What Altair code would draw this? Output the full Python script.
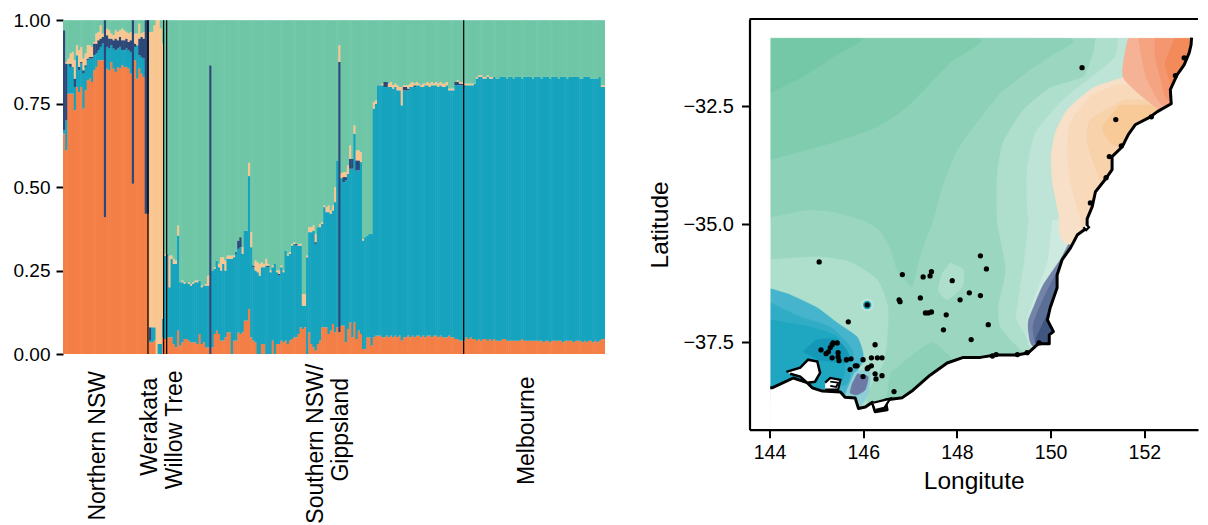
import altair as alt
import pandas as pd

# ---------- left panel: cumulative tops of each ancestry cluster per individual ----------
orange = [.66,.61,.78,.78,.78,.73,.80,.785,.80,.735,
 .79,.82,.825,.815,.85,.86,.88,.88,.88,.41,
 .855,.85,.875,.855,.845,.86,.855,.865,.86,.86,
 .855,.84,.51,.88,.825,.855,.84,.83,.42,.42,
 .035,.035,.04,0,0,0,.05,.045,.05,.05,
 .05,.03,.02,.07,.025,.035,.045,.045,.04,.035,
 .035,.035,.03,.06,.03,.035,.02,.02,0,.02,
 .06,.07,.06,.04,.04,.05,.065,.065,0,.04,
 .04,.065,.06,.065,.10,.10,.135,.05,.04,.035,
 0,0,.03,.03,0,0,0,.04,0,.03,
 .03,.04,.035,.04,.03,.04,.045,.05,.05,.06,
 .08,.075,.08,0,.065,.03,.02,.01,.03,.04,
 .08,.08,.08,.06,.07,.09,.065,.08,.065,.085,
 .085,.035,.075,.095,.05,.095,.045,.07,.06,.015,
 .015,.05,.05,.025,.05,.055,.055,.055,.05,.05,
 .055,.05,.055,.05,.055,.05,.055,.04,.05,.05,
 .055,.05,.055,.05,.055,.055,.05,.055,.05,.055,
 .055,.05,.055,.055,.05,.055,.05,.05,.05,.055,
 .05,.05,.045,.045,.04,.04,.04,.05,.045,.05,
 .045,.045,.04,.045,.04,.045,.045,.04,.045,.04,
 .045,.04,.04,.04,.045,.045,.04,.04,.04,.04,
 .04,.04,.04,.045,.04,.04,.04,.04,.04,.04,
 .04,.04,.04,.035,.04,.04,.035,.04,.04,.04,
 .04,.04,.035,.04,.04,.04,.04,.035,.04,.04,
 .04,.035,.04,.035,.04,.04,.035,.04,.035,.04,.045,.045]

blue_top = [.67,.70,.87,.86,.86,.80,.895,.85,.87,.84,
 .86,.88,.885,.885,.895,.90,.91,.92,.93,.41,
 .92,.915,.925,.915,.91,.915,.92,.91,.91,.915,
 .91,.905,.51,.92,.925,.895,.89,.885,.42,.42,
 .04,.08,.08,0,.03,.03,.105,.295,.30,.20,
 .285,.27,.27,.355,.215,.215,.21,.215,.21,.205,
 .21,.215,.215,.22,.20,.205,.205,.205,0,.25,
 .255,.28,.26,.25,.27,.25,.285,.285,.285,.29,
 .30,.315,.32,.30,.37,.37,.533,.32,.26,.25,
 .245,.235,.26,.26,.265,.26,.245,.26,.27,.245,
 .235,.26,.245,.31,.295,.30,.325,.33,.325,.325,
 .325,.145,.145,.29,.365,.365,.37,.33,.38,.38,
 .39,.44,.425,.425,.42,.43,.455,.58,.065,.527,
 .515,.52,.54,.555,.555,.66,.55,.55,.575,.34,
 .35,.355,.36,.36,.735,.75,.805,.805,.805,.80,
 .80,.80,.80,.795,.80,.79,.79,.745,.79,.79,
 .79,.80,.80,.80,.805,.805,.80,.80,.805,.805,
 .80,.805,.805,.805,.80,.805,.80,.80,.805,.79,
 .79,.79,.805,.805,.805,.805,.80,.805,.805,.805,
 .805,.81,.825,.83,.83,.825,.825,.83,.825,.825,
 .83,.825,.825,.83,.83,.83,.825,.83,.83,.825,
 .83,.83,.83,.825,.83,.83,.83,.83,.825,.83,
 .83,.83,.825,.83,.83,.83,.825,.83,.83,.83,
 .825,.83,.83,.83,.825,.83,.83,.83,.83,.83,
 .825,.825,.83,.83,.83,.825,.825,.825,.825,.83,.80,.80]

navy_top = [.97,.87,.87,.87,.86,.825,.895,.86,.875,.85,
 .865,.885,.89,.89,.93,.93,.94,.945,.95,1,
 .955,.945,.945,.94,.945,.94,.95,.94,.94,.945,
 .935,.94,1,.93,.925,.945,.95,.945,1,1,
 .08,.08,.08,0,.03,.03,.105,.295,.30,.20,
 .285,.27,.27,.355,.215,.215,.21,.215,.21,.205,
 .21,.215,.215,.22,.20,.205,.205,.205,.865,.25,
 .255,.28,.26,.25,.27,.25,.285,.285,.285,.29,
 .305,.34,.35,.30,.37,.37,.533,.32,.265,.25,
 .245,.235,.26,.26,.265,.265,.245,.26,.27,.245,
 .24,.26,.245,.31,.295,.30,.325,.33,.33,.325,
 .325,.145,.145,.29,.365,.365,.37,.335,.38,.38,
 .39,.44,.425,.425,.42,.43,.455,.58,.875,.527,
 .53,.53,.54,.585,.585,.66,.58,.58,.575,.34,
 .35,.355,.36,.36,.735,.75,.805,.805,.805,.815,
 .815,.80,.80,.795,.80,.79,.79,.745,.80,.80,
 .795,.80,.80,.805,.805,.805,.80,.80,.805,.805,
 .80,.805,.805,.805,.80,.805,.80,.80,.805,.79,
 .79,.79,.815,.815,.81,.81,.805,.805,.805,.805] + blue_top[190:]

peach_top = [.97,.875,.885,.90,.905,.88,.925,.91,.92,.885,
 .90,.925,.925,.92,.935,.96,.965,.985,.96,1,
 .975,.97,.96,.955,.97,.965,.97,.975,.97,.965,
 .96,.965,1,.96,.96,.99,.96,.965,1,1,
 .965,.965,.985,1,1,.975,.93,.30,.30,.295,
 .295,.285,.28,.385,.215,.22,.215,.215,.215,.21,
 .215,.22,.22,.22,.205,.205,.21,.235,.865,.25,
 .26,.28,.27,.29,.29,.28,.295,.295,.295,.295,
 .305,.34,.35,.32,.37,.37,.573,.365,.265,.28,
 .275,.27,.275,.27,.285,.27,.25,.265,.27,.25,
 .25,.265,.25,.31,.30,.305,.33,.335,.33,.33,
 .33,.18,.18,.295,.38,.38,.385,.36,.38,.39,
 .395,.445,.44,.445,.43,.445,.50,.58,.925,.542,
 .545,.545,.565,.625,.585,.685,.61,.61,.605,.345,
 .35,.355,.36,.36,.755,.76,.805,.805,.81,.815,
 .815,.81,.815,.805,.81,.805,.80,.80,.805,.805,
 .805,.81,.815,.81,.815,.81,.805,.81,.81,.815,
 .81,.815,.81,.815,.81,.815,.81,.81,.815,.795,
 .795,.795,.815,.82,.815,.815,.81,.81,.81,.81,
 .81,.81,.83,.835,.835,.83,.83,.835,.83,.83] + blue_top[200:250] + [.805,.805]

assert len(orange)==len(blue_top)==len(navy_top)==len(peach_top), (len(orange),len(blue_top),len(navy_top),len(peach_top))
N = len(orange)

separators = [39.5, 46.8, 48.2, 186.3]
label_text = ["Northern NSW", "Werakata", "Willow Tree", "Southern NSW/", "Gippsland", "Melbourne"]
label_pos = [16.3, 40.4, 52.0, 117.6, 129.2, 215.7]
label_val = [-.275, -.218, -.227, -.269, -.227, -.23]

C_ORANGE, C_BLUE, C_NAVY, C_PEACH, C_GREEN = "#f47f46", "#16a3be", "#2d4878", "#f8c690", "#6ec6a6"
FONT = "Liberation Sans"

rows = []
for i in range(N):
    tops = [(0, orange[i], C_ORANGE), (orange[i], blue_top[i], C_BLUE), (blue_top[i], navy_top[i], C_NAVY),
            (navy_top[i], peach_top[i], C_PEACH), (peach_top[i], 1.0, C_GREEN)]
    for lo, hi, c in tops:
        if hi > lo:
            rows.append({"i": i, "i2": min(i + 1.25, N), "lo": lo, "hi": hi, "c": c})
bars_df = pd.DataFrame(rows)

bx = alt.X("i:Q", scale=alt.Scale(domain=[0, N], nice=False, zero=False), axis=None)
by = alt.Y("lo:Q", title=None, scale=alt.Scale(domain=[0, 1.0036], nice=False),
           axis=alt.Axis(values=[0, .25, .5, .75, 1], format=".2f", domain=False, grid=False, tickColor="black",
                         tickWidth=2, tickSize=7, labelFontSize=19, labelFont=FONT, labelColor="black", labelPadding=6,
                         minExtent=55, maxExtent=55))

bars = alt.Chart(bars_df).mark_rect().encode(
    x=bx, x2="i2:Q", y=by, y2="hi:Q", fill=alt.Fill("c:N", scale=None))
sep = alt.Chart(pd.DataFrame({"i": separators, "lo": [0] * 4, "hi": [1] * 4})).mark_rule(
    color="black", strokeWidth=1.2).encode(x=bx, y=by, y2="hi:Q")
labels = alt.Chart(pd.DataFrame({"i": label_pos, "lo": label_val, "t": label_text})).mark_text(
    angle=270, align="center", baseline="middle", font=FONT, fontSize=23, color="black", clip=False
).encode(x=bx, y=by, text="t:N")
left = alt.layer(bars, sep, labels).properties(width=542, height=335)

# ---------- right panel: map ----------
xmin, xmax, ymin, ymax = 143.573, 153.146, -39.36, -30.645


def cal(p):
    # readings were taken with 46.2 and 46.8 px per degree; the axis ticks run at 46.85 and 47.12
    return (144 + ((p[0] - 144) * 46.2 + 0.7) / 46.85, -32.5 - ((-31 - p[1]) * 46.8 + 38 - 106.7) / 47.12)


coast = [(153.12,-31.0),(153.11,-31.15),(153.07,-31.32),(152.96,-31.58),(152.81,-31.79),(152.66,-32.11),(152.68,-32.41),
 (152.38,-32.58),(152.23,-32.69),(151.90,-32.86),(151.75,-33.07),(151.62,-33.33),(151.40,-33.54),(151.40,-33.82),
 (151.25,-34.03),(151.04,-34.29),(150.97,-34.61),(150.86,-34.87),(150.86,-35.06),(150.65,-35.21),(150.50,-35.49),
 (150.32,-35.74),(150.21,-36.07),(150.21,-36.34),(150.06,-36.77),(150.00,-37.03),(150.13,-37.28),(150.04,-37.35),
 (150.04,-37.54),(149.80,-37.54),(149.59,-37.73),(149.35,-37.78),(148.87,-37.78),(148.55,-37.83),(148.18,-37.83),
 (147.83,-37.95),(147.46,-38.21),(147.09,-38.53),(146.86,-38.69),(146.49,-38.74),(146.53,-38.95),(146.27,-38.99),
 (146.21,-38.79),(146.06,-38.89),(145.91,-38.92),(145.84,-38.70),(145.62,-38.68),(145.52,-38.57),(145.13,-38.55),
 (144.91,-38.48),(144.80,-38.37),(144.50,-38.27),(144.04,-38.48),(144.00,-38.48)]
sea = coast + [(144.0,-39.32),(154.0,-39.32),(154.0,-30.9),(153.12,-30.9)]
top_mask = [(143.65,-30.7),(154.0,-30.7),(154.0,-31.0),(143.65,-31.0)]
left_mask = [(143.65,-30.7),(144.0,-30.7),(144.0,-39.32),(143.65,-39.32)]

land = [(144,-31),(153.2,-31),(153.2,-39.3),(144,-39.3)]
band_a = [(144,-31),(145.99,-31),(145.36,-31.41),(144.71,-31.83),(144,-32.18)]
band_b = [(144,-31),(148.48,-31),(147.90,-31.53),(146.97,-32.47),(146.32,-32.90),(145.36,-33.24),(144,-33.61)]
band_c = [(144,-31),(150.34,-31),(150.11,-31.36),(149.63,-31.68),(148.98,-32.18),(148.55,-32.71),(148.05,-33.39),
 (147.72,-34.18),(147.53,-34.89),(147.36,-35.32),(147.20,-35.81),(147.10,-36.24),(147.03,-36.30),(146.75,-35.96),
 (146.64,-35.59),(146.42,-35.17),(146.10,-34.93),(145.36,-34.72),(144.80,-34.68),(144,-34.83)]
band_e = [(151.04,-31),(150.99,-31.32),(150.78,-31.83),(150.06,-32.07),(149.48,-32.54),(149.04,-33.24),(148.91,-33.97),
 (148.91,-34.89),(149.04,-35.59),(149.09,-36.02),(148.94,-36.75),(148.98,-37.18),(149.35,-37.60),(149.85,-37.88),
 (153.2,-37.88),(153.2,-31)]
band_f = [(151.53,-31),(151.47,-31.41),(150.97,-31.83),(150.34,-32.32),(149.74,-33.03),(149.56,-33.82),(149.56,-34.68),
 (149.59,-34.89),(149.52,-35.59),(149.35,-36.75),(149.33,-37.03),(149.63,-37.52),(149.85,-37.88),(153.2,-37.88),(153.2,-31)]
band_g = [(150.11,-34.89),(150.00,-35.81),(149.78,-36.39),(149.56,-37.03),(149.59,-37.52),(149.74,-37.62),(151.15,-37.62),(151.15,-34.89)]
light = [(144,-35.74),(145.02,-35.68),(145.73,-35.79),(146.32,-36.17),(146.55,-36.75),(146.53,-37.45),(146.45,-37.95),
 (146.10,-38.59),(145.95,-39.16),(144,-39.16)]
south_dark = [(146.60,-38.16),(147.46,-37.52),(147.90,-37.82),(148.1,-38.2),(147.2,-38.9),(146.49,-38.84)]
blob = [(147.90,-35.81),(148.18,-35.96),(148.16,-36.32),(147.83,-36.60),(147.64,-36.39),(147.72,-36.02)]
peach_1 = [(151.64,-31.85),(150.99,-32.07),(150.43,-32.54),(150.17,-33.03),(150.08,-33.54),(150.11,-34.10),(150.24,-34.74),
 (150.45,-35.42),(153.2,-35.42),(153.2,-31.85)]
peach_2 = [(151.51,-32.00),(150.93,-32.26),(150.50,-32.82),(150.43,-33.39),(150.50,-34.10),(150.71,-34.83),(150.93,-35.32),
 (153.2,-35.32),(153.2,-32.00)]
peach_3 = [(151.69,-32.32),(150.93,-32.75),(150.86,-33.24),(151.08,-33.88),(151.40,-34.36),(153.2,-34.36),(153.2,-32.32)]
peach_4 = [(151.58,-32.43),(151.19,-32.90),(151.32,-33.18),(151.58,-33.33),(153.2,-33.33),(153.2,-32.43)]
orange_1 = [(151.75,-31),(151.64,-31.85),(152.44,-32.54),(153.2,-32.54),(153.2,-31)]
orange_2 = [(151.97,-31),(152.05,-31.47),(152.16,-31.90),(152.49,-32.43),(153.2,-32.43),(153.2,-31)]
orange_3 = [(152.33,-31),(152.33,-31.41),(152.44,-31.83),(152.59,-32.32),(153.2,-32.32),(153.2,-31)]
orange_4 = [(152.77,-31),(152.55,-31.53),(152.66,-31.96),(152.77,-32.32),(153.2,-32.32),(153.2,-31)]
navy_1 = [(150.45,-35.42),(150.28,-35.74),(149.91,-36.28),(149.74,-36.66),(149.59,-37.03),(149.59,-37.30),(149.74,-37.62),(151.15,-37.62),(151.15,-35.42)]
navy_2 = [(150.36,-35.70),(150.06,-36.28),(149.85,-36.71),(149.69,-37.13),(149.72,-37.45),(149.85,-37.62),(151.15,-37.62),(151.15,-35.70)]
navy_3 = [(150.11,-36.71),(149.89,-37.13),(149.78,-37.56),(151.15,-37.56),(151.15,-36.71)]
blue_1 = [(144,-36.36),(144.43,-36.49),(145.02,-36.77),(145.45,-37.09),(145.88,-37.39),(146.01,-37.73),(145.99,-37.95),
 (145.80,-38.24),(145.69,-38.52),(145.73,-38.74),(144,-38.74)]
blue_2 = [(144,-36.66),(144.65,-36.96),(145.30,-37.18),(145.67,-37.52),(145.80,-37.73),(145.73,-37.95),(145.62,-38.42),(144,-38.63)]
blue_3 = [(144,-37.03),(144.87,-37.18),(145.45,-37.39),(145.62,-37.88),(145.47,-38.42),(144,-38.63)]
blue_4 = [(144.71,-37.71),(145.02,-37.45),(145.45,-37.45),(145.69,-37.73),(145.67,-37.95),(145.02,-37.88)]
pale_blue = [(145.62,-38.63),(145.84,-38.14),(146.17,-38.14),(146.12,-38.63),(145.91,-38.95)]
navy_blob = [(145.88,-38.18),(146.12,-38.24),(146.06,-38.52),(145.88,-38.63),(145.73,-38.59),(145.78,-38.37)]

port_phillip = [(144.35,-38.14),(144.65,-38.05),(144.82,-37.88),(145.02,-37.92),(145.08,-38.16),(144.97,-38.35),(144.80,-38.37),(144.65,-38.24),(144.43,-38.18)]
western_port = [(145.19,-38.37),(145.30,-38.27),(145.52,-38.31),(145.47,-38.52),(145.19,-38.52)]
phillip_isl = [(145.30,-38.35),(145.47,-38.37),(145.43,-38.46),(145.30,-38.44)]
corner_inlet = [(146.23,-38.80),(146.60,-38.71),(146.47,-38.91),(146.29,-38.95)]
port_ring = [(150.84,-34.99),(150.90,-35.05),(150.84,-35.11),(150.78,-35.05)]

dots_lon = [150.75,151.48,152.96,152.77,152.25,151.60,151.34,151.27,150.93,148.68,148.72,149.82,149.56,149.35,148.89,148.81,
 148.55,148.55,145.06,146.86,147.31,147.46,147.49,147.94,148.31,148.11,147.25,146.79,146.81,146.10,145.69,147.36,147.42,
 147.49,147.81,147.75,148.35,146.27,146.68,145.10,145.21,145.26,145.30,145.34,145.36,145.45,145.34,145.47,145.47,145.49,
 145.65,145.75,146.01,146.19,146.32,146.42,145.73,145.84,145.88,146.12,146.19,146.10,146.27,146.42,146.29,146.01]
dots_lat = [-31.64,-32.75,-31.43,-31.81,-32.69,-33.31,-33.54,-33.99,-34.53,-35.94,-37.13,-37.52,-37.73,-37.77,-37.77,-37.80,
 -35.66,-36.51,-35.79,-36.06,-36.11,-36.09,-36.00,-36.19,-36.45,-36.60,-36.56,-36.60,-36.64,-36.71,-37.07,-36.88,-36.88,
 -36.86,-36.92,-37.24,-37.45,-37.56,-38.56,-37.67,-37.75,-37.71,-37.62,-37.56,-37.52,-37.52,-37.84,-37.73,-37.82,-37.90,
 -37.88,-37.86,-37.88,-37.84,-37.84,-37.84,-38.09,-38.01,-38.01,-38.05,-38.01,-38.07,-38.18,-38.22,-38.29,-38.24]

mx = alt.X("lon:Q", scale=alt.Scale(domain=[xmin, xmax], nice=False, zero=False),
           axis=alt.Axis(values=[144, 146, 148, 150, 152], format="d", title="Longitute", grid=False, domainColor="black",
                         domainWidth=2.2, tickColor="black", tickWidth=2, tickSize=8, labelFontSize=19.5, labelFont=FONT,
                         labelColor="black", labelPadding=6, titleFont=FONT, titleFontSize=24.5, titleFontWeight="normal",
                         titleColor="black", titlePadding=7))
my = alt.Y("lat:Q", scale=alt.Scale(domain=[ymin, ymax], nice=False, zero=False),
           axis=alt.Axis(values=[-32.5, -35, -37.5], format=".1f", title="Latitude", grid=False, domainColor="black",
                         domainWidth=2.2, tickColor="black", tickWidth=2, tickSize=8, labelFontSize=20, labelFont=FONT,
                         labelColor="black", labelPadding=8, titleFont=FONT, titleFontSize=24.5, titleFontWeight="normal",
                         titleColor="black", titlePadding=10, minExtent=67, maxExtent=67))


def frame(pts):
    q = [cal(p) for p in pts]
    return pd.DataFrame({"lon": [p[0] for p in q], "lat": [p[1] for p in q], "k": list(range(len(q)))})


def poly(pts, color, stroke=None, sw=0.4, curve=True):
    kw = {"interpolate": "cardinal", "tension": 0.45} if curve else {"interpolate": "linear"}
    return alt.Chart(frame(pts)).mark_line(fill=color, stroke=stroke or color, strokeWidth=sw, clip=True, **kw).encode(
        x=mx, y=my, order="k:Q")


def line(pts, color="black", sw=3):
    return alt.Chart(frame(pts)).mark_line(color=color, strokeWidth=sw, interpolate="linear", strokeJoin="round", clip=True).encode(
        x=mx, y=my, order="k:Q")


layers = [
    poly(land, "#9ad6c0", curve=False),
    poly(band_c, "#8dd2b8"), poly(band_b, "#80ccae"), poly(band_a, "#74c7a7"),
    poly(band_e, "#aedfcc"), poly(band_f, "#bde4d7"), poly(band_g, "#cdeae1"),
    poly(light, "#aedfcc"), poly(south_dark, "#8dd2b8"), poly(blob, "#aedfcc"),
    poly(peach_1, "#f8e0c8"), poly(peach_2, "#f8d9ba"), poly(peach_3, "#f8d2aa"), poly(peach_4, "#f8ca98"),
    poly(orange_1, "#f6b294"), poly(orange_2, "#f5a482"), poly(orange_3, "#f49770"), poly(orange_4, "#f38a5a"),
    poly(navy_1, "#7384a8"), poly(navy_2, "#5a6e96"), poly(navy_3, "#3f5680"),
    poly(blue_1, "#45b4cc"), poly(blue_2, "#30acc6"), poly(blue_3, "#1fa6c1"), poly(blue_4, "#1598b8"),
    poly(pale_blue, "#8ecfd6"), poly(navy_blob, "#6d7aa5"),
    poly(sea, "white", curve=False), poly(top_mask, "white", curve=False), poly(left_mask, "white", curve=False),
    line(coast),
    poly(port_phillip, "white", stroke="black", sw=2.5, curve=False),
    poly(western_port, "white", stroke="black", sw=2.2, curve=False),
    poly(phillip_isl, "white", stroke="black", sw=1.8, curve=False),
    poly(corner_inlet, "white", stroke="black", sw=2.2, curve=False),
    poly(port_ring, "white", stroke="black", sw=2.2, curve=False),
]
_sp = cal((146.10, -36.71))
spot_df = pd.DataFrame({"lon": [_sp[0]], "lat": [_sp[1]]})
halo = alt.Chart(spot_df).mark_circle(size=170, color="#bde4d7", opacity=1).encode(x=mx, y=my)
spot = alt.Chart(spot_df).mark_circle(size=70, color="#1aa3bf", opacity=1).encode(x=mx, y=my)
_d = [cal(p) for p in zip(dots_lon, dots_lat)]
dots = alt.Chart(pd.DataFrame({"lon": [p[0] for p in _d], "lat": [p[1] for p in _d]})).mark_circle(
    size=28, color="black", opacity=1).encode(x=mx, y=my)
top_rule = alt.Chart(pd.DataFrame({"lon": [xmin], "lon2": [xmax], "lat": [ymax]})).mark_rule(color="black", strokeWidth=2.2).encode(
    x=mx, x2="lon2:Q", y=my)

right = alt.layer(*layers, halo, spot, dots, top_rule).properties(width=448.5, height=410.7)

chart = alt.hconcat(left, right, spacing=42.5).properties(
    padding={"left": 0, "top": 3, "right": 0, "bottom": 0}
).configure_view(stroke=None)

chart.save("out.html", embed_options={"renderer": "svg", "actions": False})
